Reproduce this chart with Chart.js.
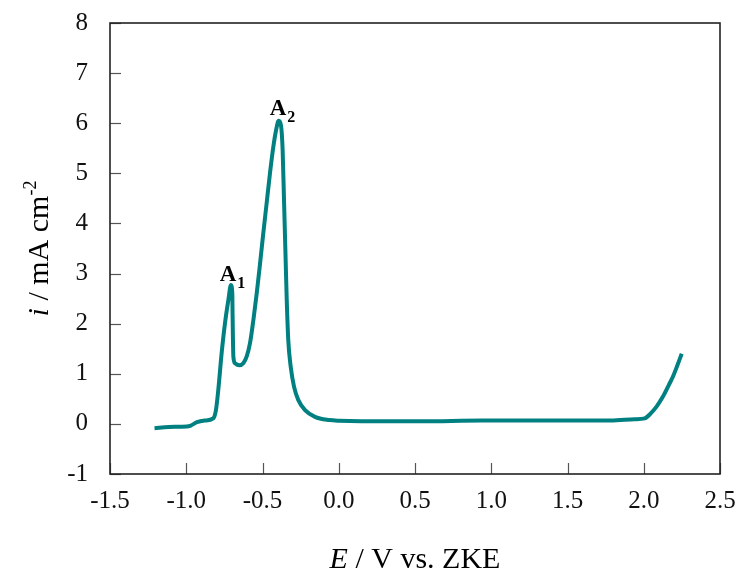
<!DOCTYPE html>
<html>
<head>
<meta charset="utf-8">
<script src="https://cdn.jsdelivr.net/npm/chart.js@4.4.1/dist/chart.umd.min.js"></script>
<style>
html,body{margin:0;padding:0;background:#fff;}
#wrap{width:737px;height:572px;position:relative;}
</style>
</head>
<body>
<div id="wrap"><canvas id="c" width="737" height="572"></canvas></div>
<script>
// Potential E (V vs. ZKE)
const eVals = [-1.208,-1.116,-0.997,-0.97,-0.93,-0.879,-0.823,-0.805,-0.79,-0.768,-0.746,-0.724,-0.707,-0.698,-0.696,-0.691,-0.68,-0.652,-0.626,-0.604,-0.582,-0.56,-0.538,-0.516,-0.495,-0.473,-0.451,-0.429,-0.411,-0.394,-0.379,-0.368,-0.359,-0.35,-0.341,-0.331,-0.315,-0.293,-0.265,-0.221,-0.156,-0.062,0.004,0.149,0.544,0.939,1.335,1.783,1.94,2.006,2.046,2.085,2.125,2.165,2.191,2.217,2.249];
// Current density i (mA cm^-2)
const iVals = [-0.086,-0.06,-0.053,-0.033,0.033,0.066,0.11,0.28,0.675,1.41,2.01,2.47,2.77,2.60,2.14,1.34,1.21,1.17,1.21,1.34,1.61,2.07,2.60,3.20,3.80,4.40,5.00,5.53,5.86,6.05,5.96,5.47,4.47,3.47,2.47,1.67,1.14,0.74,0.475,0.275,0.14,0.076,0.062,0.053,0.053,0.066,0.066,0.066,0.093,0.11,0.21,0.35,0.54,0.78,0.94,1.14,1.40];
const xTicks = [-1.5,-1.0,-0.5,0.0,0.5,1.0,1.5,2.0,2.5];
const yTicks = [-1,0,1,2,3,4,5,6,7,8];
// Peak labels: [main, subscript, E, i]
const peakLabels = [["A","1",-0.726,2.85],["A","2",-0.398,6.16]];

const SERIF = '"Liberation Serif","Times New Roman",serif';
const points = eVals.map((e,k)=>({x:e,y:iVals[k]}));

const decor = {
  id:'decor',
  afterDraw(chart){
    const ctx = chart.ctx, a = chart.chartArea;
    const xs = chart.scales.x, ys = chart.scales.y;
    ctx.save();
    // inward ticks
    ctx.strokeStyle = '#555'; ctx.lineWidth = 1.2;
    xTicks.forEach(v=>{ const px = Math.round(xs.getPixelForValue(v))+0.5;
      ctx.beginPath(); ctx.moveTo(px,a.bottom); ctx.lineTo(px,a.bottom-11); ctx.stroke(); });
    yTicks.forEach(v=>{ const py = Math.round(ys.getPixelForValue(v))+0.5;
      ctx.beginPath(); ctx.moveTo(a.left,py); ctx.lineTo(a.left+11,py); ctx.stroke(); });
    // frame
    ctx.strokeStyle = '#222'; ctx.lineWidth = 1.6;
    ctx.strokeRect(a.left, a.top, a.right-a.left, a.bottom-a.top);
    // peak labels
    ctx.fillStyle = '#000'; ctx.textBaseline = 'alphabetic';
    peakLabels.forEach(([m,s,e,i])=>{
      const px = xs.getPixelForValue(e), py = ys.getPixelForValue(i);
      ctx.font = 'bold 23px '+SERIF;
      const w = ctx.measureText(m).width;
      ctx.textAlign='left';
      ctx.fillText(m, px-w/2, py);
      ctx.font = 'bold 16px '+SERIF;
      ctx.fillText(s, px+w/2+1, py+7);
    });
    // x title
    const parts = [['italic 30px ','E'],['30px ',' / V vs. ZKE']];
    let tw = 0; parts.forEach(p=>{ctx.font=p[0]+SERIF; tw+=ctx.measureText(p[1]).width;});
    let cx = (a.left+a.right)/2 - tw/2;
    ctx.textAlign='left';
    parts.forEach(p=>{ctx.font=p[0]+SERIF; ctx.fillText(p[1],cx,568); cx+=ctx.measureText(p[1]).width;});
    // y title
    ctx.translate(48,(a.top+a.bottom)/2);
    ctx.rotate(-Math.PI/2);
    const yp = [['italic 30px ','i',0],['30px ',' / mA cm',0],['18px ','-2',-12]];
    tw = 0; yp.forEach(p=>{ctx.font=p[0]+SERIF; tw+=ctx.measureText(p[1]).width;});
    cx = -tw/2;
    yp.forEach(p=>{ctx.font=p[0]+SERIF; ctx.fillText(p[1],cx,p[2]); cx+=ctx.measureText(p[1]).width;});
    ctx.restore();
  }
};

new Chart(document.getElementById('c'),{
  type:'scatter',
  data:{datasets:[{data:points,showLine:true,borderColor:'#008080',borderWidth:4,pointRadius:0,cubicInterpolationMode:'monotone',fill:false}]},
  options:{
    responsive:false,animation:false,
    layout:{padding:{left:0,right:17,top:23,bottom:0}},
    plugins:{legend:{display:false},tooltip:{enabled:false}},
    scales:{
      x:{type:'linear',min:-1.5,max:2.5,
        afterBuildTicks(s){s.ticks = xTicks.map(v=>({value:v}));},
        afterFit(s){s.height=98; s.paddingLeft=0; s.paddingRight=0;},
        grid:{display:false},border:{display:false},
        ticks:{padding:4,color:'#111',font:{family:SERIF,size:25},callback:v=>v.toFixed(1),maxRotation:0,autoSkip:false}},
      y:{type:'linear',min:-1,max:8,
        afterBuildTicks(s){s.ticks = yTicks.map(v=>({value:v}));},
        afterFit(s){s.width=110; s.paddingTop=0; s.paddingBottom=0;},
        grid:{display:false},border:{display:false},
        ticks:{padding:14,color:'#111',font:{family:SERIF,size:25},callback:v=>String(v),autoSkip:false}}
    }
  },
  plugins:[decor]
});
</script>
</body>
</html>
